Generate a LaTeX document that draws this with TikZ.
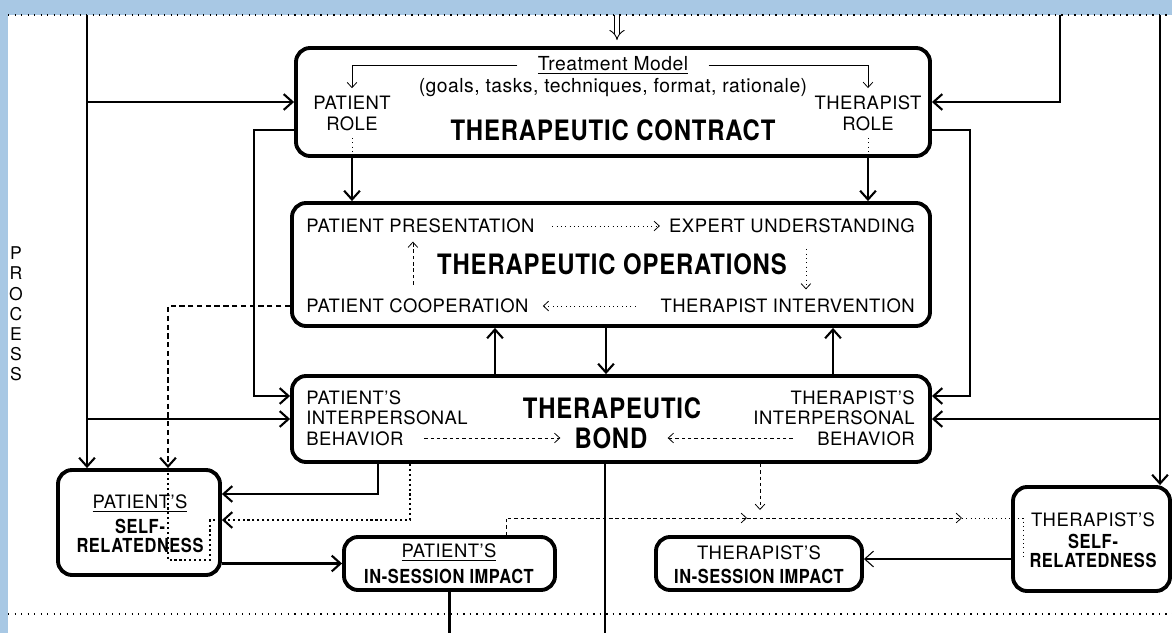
\documentclass[tikz,border=0pt]{standalone}
\usepackage{fontspec}
\setmainfont[LetterSpace=2.5]{TeX Gyre Heros}
\newfontfamily\condensado[FakeStretch=0.85, LetterSpace=3]{TeX Gyre Heros}
\usetikzlibrary{arrows.meta,positioning}
\definecolor{azulmarco}{HTML}{A8C8E4}

\begin{document}
\begin{tikzpicture}[x=0.2mm, y=-0.2mm, % 1 unidad = 1 pixel
  caja/.style={draw, line width=2.2pt, rounded corners=8pt, inner sep=0pt},
  etiq/.style={font=\fontsize{10.5}{12}\selectfont, inner sep=0pt, align=center},
  titulo/.style={font=\condensado\bfseries\fontsize{16}{17}\selectfont, inner sep=0pt, align=center},
  negrita/.style={font=\condensado\bfseries\fontsize{11}{10.4}\selectfont, inner sep=0pt, align=center},
  flecha/.style={line width=1.2pt, -{Straight Barb[length=5pt, width=9pt]}},
  linea/.style={line width=1.2pt},
  fina/.style={line width=0.45pt, -{Straight Barb[length=3pt, width=5.5pt]}},
  punteada/.style={line width=0.45pt, dotted, -{Straight Barb[length=3pt, width=5.5pt]}},
  rayada/.style={line width=0.45pt, dash pattern=on 2pt off 1.6pt, -{Straight Barb[length=3pt, width=5.5pt]}},
  gruesa/.style={line width=1.2pt, dash pattern=on 1.2pt off 1.6pt},
  borde/.style={line width=0.8pt, dash pattern=on 0.8pt off 2.9pt}
]
  % Fondo y marco
  \fill[azulmarco] (0,0) rectangle (1172,633);
  \fill[white] (8,15) rectangle (1172,633);
  \useasboundingbox (0,0) rectangle (1172,633);
  \draw[borde] (8,15) -- (1172,15);
  \draw[borde] (8,614) -- (1172,614);
  \node[etiq, font=\fontsize{10}{11.5}\selectfont] (proceso) at (16,314) {P\\R\\O\\C\\E\\S\\S};

  % Cajas
  \node[caja, minimum width=126.8mm, minimum height=21.6mm] (contrato) at (613,102) {};
  \node[caja, minimum width=127.6mm, minimum height=24.6mm] (operaciones) at (611,264.5) {};
  \node[caja, minimum width=127.6mm, minimum height=17.2mm] (vinculo) at (611,419) {};
  \node[caja, minimum width=32.4mm, minimum height=21mm] (pself) at (139,522.5) {};
  \node[caja, minimum width=42.2mm, minimum height=10.6mm] (pimpacto) at (449.5,563.5) {};
  \node[caja, minimum width=41.2mm, minimum height=10.6mm] (timpacto) at (759,563.5) {};
  \node[caja, minimum width=31.4mm, minimum height=20.8mm] (tself) at (1091.5,539) {};

  % Contrato
  \node[etiq, font=\fontsize{11}{13}\selectfont] (modelo) at (613,65) {\underline{Treatment Model}};
  \node[etiq, font=\fontsize{11}{13}\selectfont] (tareas) at (613,88) {(goals, tasks, techniques, format, rationale)};
  \node[etiq] (prol) at (352,113) {PATIENT\\ROLE};
  \node[etiq] (trol) at (868,113) {THERAPIST\\ROLE};
  \node[titulo] (ctit) at (613,130) {THERAPEUTIC CONTRACT};
  \draw[fina] ([xshift=-4mm]modelo.west) -| ([yshift=1.4mm]prol.north);
  \draw[fina] ([xshift=4mm]modelo.east) -| ([yshift=1.4mm]trol.north);
  \draw[line width=0.5pt, dotted] ([yshift=-1.4mm]prol.south) -- (prol.south |- contrato.south);
  \draw[line width=0.5pt, dotted] ([yshift=-1.4mm]trol.south) -- (trol.south |- contrato.south);
  \draw[flecha] (prol.south |- contrato.south) -- (prol.south |- operaciones.north);
  \draw[flecha] (trol.south |- contrato.south) -- (trol.south |- operaciones.north);
  \coordinate (entrada) at (617,15);
  \draw[double, double distance=2.6pt, line width=0.5pt, -{Implies[length=4pt, width=9pt]}, shorten >=1.2mm] (entrada) -- (entrada |- contrato.north);

  % Operaciones
  \node[etiq, anchor=west] (ppres) at (306,226) {PATIENT PRESENTATION};
  \node[etiq, anchor=east] (experto) at (915,226) {EXPERT UNDERSTANDING};
  \node[titulo] (otit) at (612,264) {THERAPEUTIC OPERATIONS};
  \node[etiq, anchor=west] (pcoop) at (306,306) {PATIENT COOPERATION};
  \node[etiq, anchor=east] (tinterv) at (915,306) {THERAPIST INTERVENTION};
  \draw[punteada] ([xshift=3.5mm]ppres.east) -- ([xshift=-1.8mm]experto.west);
  \draw[punteada] ([xshift=-5mm]tinterv.west) -- ([xshift=2.8mm]pcoop.east);
  \draw[rayada] ([xshift=-0.9mm, yshift=2.8mm]pcoop.north) -- ++(0,-43);
  \draw[punteada] ([xshift=2.8mm, yshift=-3.2mm]experto.south) -- ++(0,40);

  % Vinculo
  \node[etiq, anchor=west, align=left, font=\fontsize{10.5}{11.7}\selectfont] (pinter) at (306,418) {PATIENT'S\\INTERPERSONAL\\BEHAVIOR};
  \node[etiq, anchor=east, align=right, font=\fontsize{10.5}{11.7}\selectfont] (tinter) at (915,418) {THERAPIST'S\\INTERPERSONAL\\BEHAVIOR};
  \node[titulo] (vtit) at (612,408) {THERAPEUTIC};
  \node[titulo] (bond) at (611,438) {BOND};
  \draw[rayada] ([xshift=-30mm]bond.west) -- ([xshift=-2.8mm]bond.west);
  \draw[rayada] ([xshift=29mm]bond.east) -- ([xshift=4mm]bond.east);
  \draw[flecha] ([xshift=-23.2mm]vinculo.north) -- ([xshift=-23.2mm]operaciones.south);
  \draw[flecha] ([xshift=-1mm]operaciones.south) -- ([xshift=-1mm]vinculo.north);
  \draw[flecha] ([xshift=44.4mm]vinculo.north) -- ([xshift=44.4mm]operaciones.south);

  % Lineas exteriores
  \coordinate (busi) at (87,15);
  \coordinate (lazoi) at (254,15);
  \coordinate (busd) at (1060,15);
  \coordinate (busdd) at (1160,15);
  \coordinate (lazod) at (970,15);
  \draw[flecha] (busi) -- (busi |- pself.north);
  \draw[flecha] (busi |- contrato.west) -- (contrato.west);
  \draw[flecha] (busi |- vinculo.west) -- (vinculo.west);
  \coordinate (vin) at ([yshift=4.6mm]vinculo.west);
  \draw[flecha] ([yshift=-5.6mm]contrato.west) -| (lazoi |- vin) -- (vin);
  \draw[flecha] (busd) |- (contrato.east);
  \draw[flecha] (busdd) -- (busdd |- tself.north);
  \draw[flecha] (busdd |- vinculo.east) -- (vinculo.east);
  \coordinate (vdn) at ([yshift=4.6mm]vinculo.east);
  \draw[flecha] ([yshift=-5.6mm]contrato.east) -| (lazod |- vdn) -- (vdn);

  % Paciente abajo
  \node[etiq] (pst1) at (140,504) {\underline{PATIENT'S}};
  \node[negrita] (pst2) at (140,536) {SELF-\\RELATEDNESS};
  \node[etiq] (pit1) at (449,553) {\underline{PATIENT'S}};
  \node[negrita] (pit2) at (449,576) {IN-SESSION IMPACT};
  \coordinate (psal1) at (378,0);
  \coordinate (psal2) at (410,0);
  \coordinate (pdash) at (168,0);
  \coordinate (pesq) at (210,560);
  \coordinate (pent1) at ([yshift=5.7mm]pself.east);
  \coordinate (pent2) at ([yshift=0.5mm]pself.east);
  \draw[flecha] (vinculo.south -| psal1) |- (pent1);
  \draw[gruesa, -{Straight Barb[length=5pt, width=9pt]}] (vinculo.south -| psal2) |- (pent2);
  \draw[line width=1.2pt, dash pattern=on 3pt off 2pt, -{Straight Barb[length=5pt, width=9pt]}] (operaciones.west |- pcoop.west) -| (pdash |- pself.north);
  \draw[gruesa] (pdash |- pself.north) -- (pdash |- pesq) -- (pesq) -- (pesq |- pent2) -- (pent2);
  \draw[flecha] (pself.east |- pimpacto.west) -- (pimpacto.west);
  \coordinate (fondo) at (0,633);
  \coordinate (bfondo) at (605,633);
  \draw[linea] (pimpacto.south) -- (pimpacto.south |- fondo);
  \draw[linea] (vinculo.south -| bfondo) -- (bfondo);

  % Terapeuta abajo
  \node[etiq] (tit1) at (759,553) {THERAPIST'S};
  \node[negrita] (tit2) at (759,576) {IN-SESSION IMPACT};
  \node[etiq] (tst1) at (1093,520) {THERAPIST'S};
  \node[negrita] (tst2) at (1093,551) {SELF-\\RELATEDNESS};
  \coordinate (pfb) at ([xshift=11.3mm]pimpacto.north);
  \coordinate (cruce) at (760,518);
  \coordinate (tent) at (962,518);
  \coordinate (tesq) at (1023,518);
  \coordinate (tsal) at ([yshift=-4mm]tself.west);
  \draw[rayada] (pfb) |- ([xshift=-2.6mm]cruce);
  \draw[rayada] ([xshift=-2.6mm]cruce) -- (tent);
  \draw[line width=0.45pt, dotted] (tent) -- (tesq) -- (tesq |- tsal);
  \draw[rayada, shorten >=1.6mm] (vinculo.south -| cruce) -- (cruce);
  \draw[line width=0.6pt, -{Straight Barb[length=5pt, width=9pt]}] (tsal) -- (timpacto.east |- tsal);
\end{tikzpicture}
\end{document}
